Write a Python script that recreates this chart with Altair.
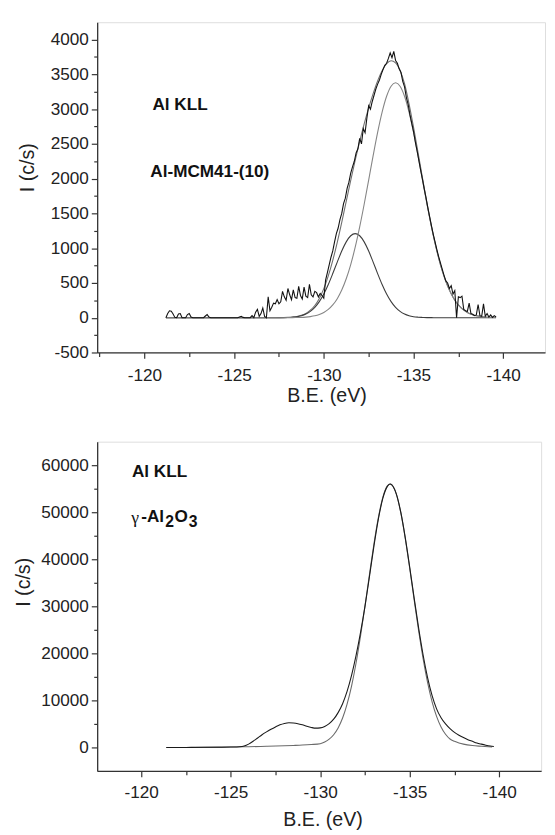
import altair as alt
import pandas as pd

FONT = "Liberation Sans"

# ---------------- top panel : Al-MCM41-(10), Al KLL ----------------
# experimental spectrum, sampled every 0.1 eV from -121.2 to -139.6 eV
be_exp_top = [round(-121.2 - 0.1 * i, 1) for i in range(185)]
i_exp_top = [
    0, 60, 100, 95, 55, 5, 0, 55, 60, 0,
    0, 0, 45, 60, 10, 0, 0, 0, 0, 0,
    0, 0, 25, 45, 10, 0, 0, 0, 0, 0,
    0, 0, 0, 0, 0, 0, 0, 0, 0, 0,
    0, 10, 20, 5, 0, 0, 0, 0, 30, 0,
    80, 120, 20, 60, 140, 20, 0, 300, 100, 150,
    210, 200, 260, 200, 230, 380, 300, 250, 420, 330,
    260, 400, 290, 280, 450, 320, 270, 440, 310, 290,
    480, 330, 300, 380, 360, 300, 350, 320, 280, 540,
    650, 760, 870, 960, 1090, 1210, 1290, 1410, 1500, 1640,
    1720, 1860, 1950, 2080, 2170, 2250, 2370, 2430, 2580, 2500,
    2720, 2660, 2870, 3050, 3000, 3110, 3200, 3290, 3360, 3420,
    3500, 3570, 3630, 3660, 3730, 3810, 3740, 3830, 3700, 3660,
    3580, 3530, 3400, 3320, 3170, 3070, 2920, 2800, 2680, 2530,
    2400, 2260, 2120, 1990, 1850, 1720, 1580, 1450, 1320, 1200,
    1090, 980, 880, 790, 700, 610, 530, 500, 420, 460,
    340, 390, 0, 300, 290, 310, 120, 100, 90, 210,
    60, 50, 30, 40, 190, 30, 20, 200, 20, 60,
    10, 40, 5, 30, 10,
]

be_fit_top = [
    -121.2, -122.0, -123.0, -124.0, -125.0, -126.0, -126.5, -127.0, -127.5,
    -128.0, -128.25, -128.5, -128.75, -129.0, -129.25, -129.5, -129.75,
    -130.0, -130.25, -130.5, -130.75, -131.0, -131.25, -131.5, -131.75,
    -132.0, -132.25, -132.5, -132.75, -133.0, -133.25, -133.5, -133.75,
    -134.0, -134.25, -134.5, -134.75, -135.0, -135.25, -135.5, -135.75,
    -136.0, -136.25, -136.5, -136.75, -137.0, -137.25, -137.5, -137.75,
    -138.0, -138.25, -138.5, -138.75, -139.0, -139.25, -139.5, -139.6,
]
env_top = [
    0, 0, 0, 0, 0, 0, 0, 0, 1,
    5, 9, 18, 34, 62, 108, 176, 278,
    419, 602, 826, 1085, 1373, 1673, 1975, 2265,
    2537, 2788, 3018, 3224, 3407, 3553, 3653, 3695,
    3664, 3555, 3365, 3076, 2740, 2379, 2009, 1648,
    1315, 1018, 765, 560, 398, 274, 184, 119,
    75, 46, 27, 16, 9, 5, 3, 2,
]
comp1_top = [
    0, 0, 0, 0, 0, 0, 0, 0, 1,
    4, 8, 15, 29, 53, 92, 149, 232,
    341, 478, 635, 800, 959, 1091, 1179, 1210,
    1179, 1091, 959, 800, 635, 478, 341, 232,
    149, 92, 53, 29, 15, 8, 4, 1,
    1, 0, 0, 0, 0, 0, 0, 0,
    0, 0, 0, 0, 0, 0, 0, 0,
]
comp2_top = [
    0, 0, 0, 0, 0, 0, 0, 0, 0,
    1, 1, 3, 5, 9, 16, 27, 46,
    75, 119, 184, 274, 398, 560, 765, 1014,
    1306, 1632, 1980, 2331, 2665, 2957, 3185, 3330,
    3380, 3330, 3185, 2957, 2665, 2331, 1980, 1632,
    1306, 1014, 765, 560, 398, 274, 184, 119,
    75, 46, 27, 16, 9, 5, 3, 2,
]

# ---------------- bottom panel : gamma-Al2O3, Al KLL ----------------
be_exp_bot = [
    -121.4, -122.5, -123.5, -124.5, -125.0, -125.5, -125.75,
    -126.0, -126.25, -126.5, -126.75, -127.0, -127.25, -127.5, -127.75,
    -128.0, -128.25, -128.5, -128.75, -129.0, -129.25, -129.5, -129.75,
    -130.0, -130.25, -130.5, -130.75, -131.0, -131.25, -131.5, -131.75,
    -132.0, -132.25, -132.5, -132.75, -133.0, -133.25, -133.5, -133.75,
    -133.9, -134.0, -134.25, -134.5, -134.75, -135.0, -135.25, -135.5,
    -135.75, -136.0, -136.25, -136.5, -136.75, -137.0, -137.25, -137.5,
    -137.75, -138.0, -138.25, -138.5, -138.75, -139.0, -139.25, -139.5,
    -139.7,
]
i_exp_bot = [
    0, 0, 30, 50, 80, 150, 300,
    700, 1300, 2000, 2700, 3300, 3850, 4350, 4800,
    5100, 5250, 5200, 5050, 4800, 4500, 4250, 4100,
    4150, 4450, 5050, 6000, 7400, 9300, 11900, 15300,
    19500, 24400, 30000, 36300, 42800, 48600, 53000, 55500,
    56000, 55800, 53900, 50000, 44600, 38300, 31700, 25300,
    19600, 14800, 11000, 8200, 6300, 5000, 4000, 3200,
    2600, 2100, 1650, 1300, 950, 700, 480, 300,
    200,
]
be_fit_bot = [
    -121.4, -123.0, -125.0, -126.0, -127.0, -128.0, -128.5, -129.0, -129.5,
    -130.0, -130.25, -130.5, -130.75, -131.0, -131.25, -131.5, -131.75,
    -132.0, -132.25, -132.5, -132.75, -133.0, -133.25, -133.5, -133.75,
    -133.9, -134.0, -134.25, -134.5, -134.75, -135.0, -135.25, -135.5,
    -135.75, -136.0, -136.25, -136.5, -136.75, -137.0, -137.25, -137.5,
    -137.75, -138.0, -138.5, -139.0, -139.6,
]
i_fit_bot = [
    0, 0, 100, 150, 250, 350, 420, 500, 620,
    800, 1150, 1750, 2700, 4150, 6250, 9200, 13050,
    17900, 23650, 30050, 36750, 43250, 48900, 53200, 55600,
    56000, 55800, 53850, 49900, 44450, 38050, 31300, 24750,
    18800, 13750, 9700, 6600, 4350, 2800, 1800, 1300,
    950, 700, 400, 250, 100,
]

# axis ticks (major + minor)
x_ticks = [-117.5, -120, -122.5, -125, -127.5, -130, -132.5, -135, -137.5, -140, -142.5]
y_ticks_top = [-500, -250, 0, 250, 500, 750, 1000, 1250, 1500, 1750, 2000, 2250,
               2500, 2750, 3000, 3250, 3500, 3750, 4000]
y_ticks_bot = [0, 5000, 10000, 15000, 20000, 25000, 30000, 35000, 40000, 45000,
               50000, 55000, 60000]

labels_top = ["Al KLL", "Al-MCM41-(10)"]
labels_top_be = [-120.45, -120.33]
labels_top_i = [3060, 2090]


def axis_common():
    return dict(
        grid=False, domainColor="#333", domainWidth=1.3, tickColor="#333", tickWidth=1.2,
        labelFont=FONT, labelFontSize=17.5, labelColor="#222", labelOverlap=False,
        labelFlush=False, titleFont=FONT, titleFontSize=20, titleFontWeight="normal",
        titleColor="#222",
    )


def x_enc(dom, title_x, label_pad, title_pad):
    return alt.X(
        "be:Q",
        scale=alt.Scale(domain=dom, nice=False, zero=False),
        axis=alt.Axis(
            values=x_ticks,
            labelExpr="datum.value % 5 === 0 ? '' + datum.value : ''",
            tickSize={"condition": {"test": "datum.value % 5 === 0", "value": 6}, "value": 4},
            title="B.E. (eV)", labelPadding=label_pad, titlePadding=title_pad, titleX=title_x,
            **axis_common(),
        ),
    )


def y_enc(dom, ticks, major, title_y, title_pad):
    return alt.Y(
        "I:Q",
        scale=alt.Scale(domain=dom, nice=False, zero=False),
        axis=alt.Axis(
            values=ticks,
            labelExpr=f"datum.value % {major} === 0 ? '' + datum.value : ''",
            tickSize={"condition": {"test": f"datum.value % {major} === 0", "value": 6}, "value": 3.5},
            title="I (c/s)", labelPadding=3, titlePadding=title_pad, titleY=title_y,
            **axis_common(),
        ),
    )


color_fit = alt.Color(
    "series:N",
    scale=alt.Scale(domain=["envelope", "comp1", "comp2", "fit"],
                    range=["#6e6e6e", "#3c3c3c", "#858585", "#6a6a6a"]),
    legend=None,
)

# ---- top chart ----
fit_top_df = pd.DataFrame({
    "be": be_fit_top * 3,
    "I": env_top + comp1_top + comp2_top,
    "series": ["envelope"] * len(be_fit_top) + ["comp1"] * len(be_fit_top) + ["comp2"] * len(be_fit_top),
})
exp_top_df = pd.DataFrame({"be": be_exp_top, "I": i_exp_top})
txt_top_df = pd.DataFrame({"be": labels_top_be, "I": labels_top_i, "label": labels_top})

xt = x_enc([-117.37, -142.33], 234, 8.5, 2)
yt = y_enc([-500, 4250], y_ticks_top, 500, 148, 13)

top_fit = alt.Chart(fit_top_df).mark_line(interpolate="monotone", strokeWidth=1.1).encode(
    x=xt, y=yt, color=color_fit, detail="series:N")
top_exp = alt.Chart(exp_top_df).mark_line(strokeWidth=1.1, color="#111").encode(x=xt, y=yt)
top_txt = alt.Chart(txt_top_df).mark_text(
    align="left", baseline="middle", font=FONT, fontSize=17.5, fontWeight="bold", color="#111"
).encode(x=xt, y=yt, text="label:N")

top = alt.layer(top_fit, top_exp, top_txt).properties(width=457, height=337)

# ---- bottom chart ----
fit_bot_df = pd.DataFrame({"be": be_fit_bot, "I": i_fit_bot, "series": ["fit"] * len(be_fit_bot)})
exp_bot_df = pd.DataFrame({"be": be_exp_bot, "I": i_exp_bot})

xb = x_enc([-117.54, -142.34], 230, 7, 9)
yb = y_enc([-5000, 65000], y_ticks_bot, 10000, 143, 7)

bot_fit = alt.Chart(fit_bot_df).mark_line(interpolate="monotone", strokeWidth=1.1).encode(
    x=xb, y=yb, color=color_fit, detail="series:N")
bot_exp = alt.Chart(exp_bot_df).mark_line(interpolate="monotone", strokeWidth=1.1, color="#1a1a1a").encode(
    x=xb, y=yb)

t1 = pd.DataFrame({"be": [-119.48], "I": [58600], "label": ["Al KLL"]})
t_gamma = pd.DataFrame({"be": [-119.45], "I": [48900], "label": ["γ"]})
t2 = pd.DataFrame({"be": [-119.45], "I": [48900], "label": ["-Al"]})
t3 = pd.DataFrame({"be": [-119.45], "I": [48900], "label": ["2"]})
t4 = pd.DataFrame({"be": [-119.45], "I": [48900], "label": ["O"]})
t5 = pd.DataFrame({"be": [-119.45], "I": [48900], "label": ["3"]})


def txt(df, dx=0, dy=0, size=17.5, weight="bold", font=FONT):
    return alt.Chart(df).mark_text(
        align="left", baseline="middle", font=font, fontSize=size, fontWeight=weight,
        color="#111", dx=dx, dy=dy,
    ).encode(x=xb, y=yb, text="label:N")


bottom = alt.layer(
    bot_fit, bot_exp,
    txt(t1),
    txt(t_gamma, dy=1, size=18, weight="normal", font="Liberation Serif"),
    txt(t2, dx=10),
    txt(t3, dx=34.5, dy=5, size=16),
    txt(t4, dx=44, dy=0),
    txt(t5, dx=58.5, dy=5, size=16),
).properties(width=453, height=336)

chart = alt.vconcat(
    top, bottom, spacing=35,
    padding={"left": 5, "top": 5, "right": 1, "bottom": 5},
).configure_view(
    stroke="#222", strokeWidth=1.2
).configure(font=FONT, background="white")

chart.save("out.html", embed_options={"renderer": "svg", "actions": False})
